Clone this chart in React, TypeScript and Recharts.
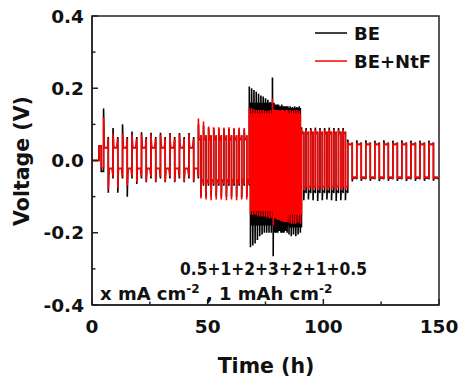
import React from 'react';
import { LineChart, Line, XAxis, YAxis, ReferenceArea, Legend } from 'recharts';

// ---- galvanostatic segments ----
const segmentCurrent = ['0.5', '1', '2', '3', '2', '1', '0.5'];
const segmentStart = [5, 46, 68, 78, 84.67, 90.55, 110.55];
const segmentHalf = [2.05, 1.1, 0.5, 0.3335, 0.49, 1.0, 1.95];

// rest / first step before cycling
const preTime = [0, 3, 3, 4, 4, 5];
const bePre = [0, 0, 0.04, 0.04, -0.03, -0.03];
const ntfPre = [0, 0, 0.04, 0.04, -0.02, -0.02];

// BE : peak voltage at the start of each half cycle
const beUpPeaks = [
  [0.144, 0.09, 0.1, 0.08, 0.078, 0.077, 0.077, 0.076, 0.076, 0.076],
  [0.1, 0.097, 0.09, 0.09, 0.088, 0.088, 0.087, 0.087, 0.086, 0.086],
  [0.205, 0.2, 0.195, 0.19, 0.185, 0.18, 0.177, 0.172, 0.168, 0.162],
  [0.23, 0.16, 0.155, 0.155, 0.155, 0.15, 0.155, 0.15, 0.15, 0.15],
  [0.15, 0.15, 0.148, 0.15, 0.148, 0.15],
  [0.092, 0.09, 0.09, 0.091, 0.09, 0.09, 0.091, 0.09, 0.09, 0.09],
  [0.058, 0.056, 0.056, 0.055, 0.056, 0.055, 0.056, 0.055, 0.055, 0.055],
];
const beDownPeaks = [
  [-0.089, -0.089, -0.1, -0.065, -0.06, -0.06, -0.06, -0.06, -0.06, -0.06],
  [-0.1, -0.102, -0.1, -0.1, -0.101, -0.1, -0.1, -0.1, -0.101, -0.1],
  [-0.24, -0.235, -0.23, -0.22, -0.21, -0.205, -0.2, -0.2, -0.2, -0.2],
  [-0.265, -0.2, -0.2, -0.2, -0.195, -0.2, -0.2, -0.2, -0.195, -0.2],
  [-0.205, -0.21, -0.205, -0.21, -0.205, -0.2],
  [-0.11, -0.108, -0.11, -0.112, -0.11, -0.108, -0.11, -0.112, -0.11, -0.11],
  [-0.058, -0.056, -0.056, -0.057, -0.056, -0.056, -0.057, -0.056, -0.056, -0.056],
];
const bePlatUp = [0.036, 0.058, 0.155, 0.14, 0.14, 0.075, 0.045];
const bePlatDown = [-0.022, -0.055, -0.175, -0.175, -0.18, -0.085, -0.048];
const beEndUp = [0.065, 0.07, 0.16, 0.145, 0.145, 0.08, 0.05];
const beEndDown = [-0.05, -0.07, -0.18, -0.18, -0.185, -0.09, -0.052];

// BE+NtF
const ntfUpPeaks = [
  [0.12, 0.075, 0.075, 0.072, 0.072, 0.072, 0.072, 0.072, 0.072, 0.072],
  [0.116, 0.108, 0.094, 0.092, 0.092, 0.091, 0.092, 0.09, 0.091, 0.09],
  [0.145, 0.145, 0.142, 0.14, 0.14, 0.14, 0.14, 0.138, 0.138, 0.14],
  [0.17, 0.142, 0.14, 0.14, 0.14, 0.138, 0.14, 0.14, 0.138, 0.14],
  [0.14, 0.14, 0.138, 0.14, 0.14, 0.138],
  [0.088, 0.086, 0.086, 0.087, 0.086, 0.086, 0.087, 0.086, 0.086, 0.086],
  [0.052, 0.05, 0.05, 0.05, 0.05, 0.05, 0.05, 0.05, 0.05, 0.05],
];
const ntfDownPeaks = [
  [-0.08, -0.075, -0.07, -0.06, -0.058, -0.058, -0.058, -0.058, -0.058, -0.058],
  [-0.105, -0.108, -0.11, -0.108, -0.108, -0.11, -0.108, -0.11, -0.108, -0.108],
  [-0.15, -0.15, -0.15, -0.152, -0.155, -0.155, -0.155, -0.158, -0.16, -0.16],
  [-0.18, -0.16, -0.162, -0.165, -0.165, -0.168, -0.168, -0.17, -0.17, -0.17],
  [-0.172, -0.175, -0.175, -0.175, -0.172, -0.175],
  [-0.082, -0.08, -0.08, -0.081, -0.08, -0.08, -0.081, -0.08, -0.08, -0.08],
  [-0.052, -0.051, -0.051, -0.052, -0.051, -0.051, -0.052, -0.051, -0.051, -0.051],
];
const ntfPlatUp = [0.035, 0.06, 0.125, 0.125, 0.125, 0.075, 0.044];
const ntfPlatDown = [-0.022, -0.055, -0.13, -0.14, -0.145, -0.072, -0.046];
const ntfEndUp = [0.06, 0.07, 0.13, 0.13, 0.13, 0.078, 0.048];
const ntfEndDown = [-0.045, -0.065, -0.14, -0.15, -0.15, -0.075, -0.05];

const xTicks = [0, 25, 50, 75, 100, 125, 150];
const xLabels = [0, 50, 100, 150];
const yTicks = [-0.4, -0.3, -0.2, -0.1, 0, 0.1, 0.2, 0.3, 0.4];
const yLabels = [-0.4, -0.2, 0, 0.2, 0.4];

type Pt = { t: number; v: number };

function buildSeries(
  pre: number[],
  up: number[][],
  down: number[][],
  platUp: number[],
  platDown: number[],
  endUp: number[],
  endDown: number[]
): Pt[] {
  const pts: Pt[] = preTime.map((t, i) => ({ t, v: pre[i] }));
  segmentStart.forEach((s, k) => {
    const h = segmentHalf[k];
    up[k].forEach((u, i) => {
      const t0 = s + 2 * i * h;
      const t1 = t0 + h;
      pts.push(
        { t: t0, v: u },
        { t: t0 + 0.12 * h, v: platUp[k] },
        { t: t0 + 0.85 * h, v: platUp[k] },
        { t: t1, v: endUp[k] },
        { t: t1, v: down[k][i] },
        { t: t1 + 0.12 * h, v: platDown[k] },
        { t: t1 + 0.85 * h, v: platDown[k] },
        { t: t1 + h, v: endDown[k] }
      );
    });
  });
  return pts;
}

const beData = buildSeries(bePre, beUpPeaks, beDownPeaks, bePlatUp, bePlatDown, beEndUp, beEndDown);
const ntfData = buildSeries(ntfPre, ntfUpPeaks, ntfDownPeaks, ntfPlatUp, ntfPlatDown, ntfEndUp, ntfEndDown);

const FONT = 'DejaVu Sans';
const PLOT_LEFT = 92;
const PLOT_BOTTOM = 305;
const AXIS = '#222';

const YTick = (props: any) => {
  const { y, payload } = props;
  const v = payload.value as number;
  const major = yLabels.some((l) => Math.abs(l - v) < 1e-6);
  return (
    <g>
      <line x1={PLOT_LEFT} x2={PLOT_LEFT + (major ? 6 : 3.5)} y1={y} y2={y} stroke={AXIS} strokeWidth={1.5} />
      {major && (
        <text x={84} y={y} dy="0.36em" textAnchor="end" fontFamily={FONT} fontWeight="bold" fontSize={18.5} fill="#111">
          {v.toFixed(1)}
        </text>
      )}
    </g>
  );
};

const XTick = (props: any) => {
  const { x, payload } = props;
  const v = payload.value as number;
  const major = xLabels.includes(v);
  return (
    <g>
      <line x1={x} x2={x} y1={PLOT_BOTTOM} y2={PLOT_BOTTOM - (major ? 6 : 3.5)} stroke={AXIS} strokeWidth={1.5} />
      {major && (
        <text x={x} y={333} textAnchor="middle" fontFamily={FONT} fontWeight="bold" fontSize={18.5} fill="#111">
          {v}
        </text>
      )}
    </g>
  );
};

const renderLegend = () => (
  <svg width={150} height={60}>
    <line x1={10} x2={42} y1={15} y2={15} stroke="#000" strokeWidth={1.5} />
    <text x={49} y={22} fontFamily={FONT} fontWeight="bold" fontSize={18} fill="#111">BE</text>
    <line x1={10} x2={42} y1={43} y2={43} stroke="#ff0000" strokeWidth={1.5} />
    <text x={49} y={50} fontFamily={FONT} fontWeight="bold" fontSize={18} fill="#111">BE+NtF</text>
  </svg>
);

export default function App() {
  return (
    <div style={{ position: 'absolute', left: 0, top: 0, width: 461, height: 389, background: '#fff' }}>
      <LineChart width={461} height={389} margin={{ top: 16, right: 22, left: 32, bottom: 54 }}>
        <XAxis
          type="number"
          dataKey="t"
          domain={[0, 150]}
          ticks={xTicks}
          interval={0}
          height={30}
          axisLine={{ stroke: AXIS, strokeWidth: 1.5 }}
          tickLine={false}
          tick={<XTick />}
          allowDataOverflow
        />
        <YAxis
          type="number"
          domain={[-0.4, 0.4]}
          ticks={yTicks}
          interval={0}
          width={60}
          axisLine={{ stroke: AXIS, strokeWidth: 1.5 }}
          tickLine={false}
          tick={<YTick />}
          allowDataOverflow
        />
        <ReferenceArea x1={0} x2={150} y1={-0.4} y2={0.4} fill="none" stroke={AXIS} strokeWidth={1.5} ifOverflow="visible" />
        <Line data={beData} dataKey="v" name="BE" type="linear" stroke="#000" strokeWidth={1.6} dot={false} isAnimationActive={false} />
        <Line data={ntfData} dataKey="v" name="BE+NtF" type="linear" stroke="#ff0000" strokeWidth={1.6} dot={false} isAnimationActive={false} />
        <Legend
          layout="vertical"
          align="center"
          verticalAlign="middle"
          wrapperStyle={{ position: 'absolute', left: 305, top: 18, width: 150, height: 60 }}
          content={renderLegend}
        />
      </LineChart>
      <svg width={461} height={389} style={{ position: 'absolute', left: 0, top: 0, pointerEvents: 'none' }}>
        <text x={180} y={275} fontFamily={FONT} fontWeight="bold" fontSize={17.5} fill="#111" textLength={187} lengthAdjust="spacingAndGlyphs">
          {segmentCurrent.join('+')}
        </text>
        <text x={100} y={300} fontFamily={FONT} fontWeight="bold" fontSize={18} fill="#111">
          x mA cm
          <tspan dy={-7} fontSize={12}>-2</tspan>
          <tspan dy={7}> , 1 mAh cm</tspan>
          <tspan dy={-7} fontSize={12}>-2</tspan>
        </text>
        <text
          x={29}
          y={161}
          transform="rotate(-90 29 161)"
          textAnchor="middle"
          fontFamily={FONT}
          fontWeight="bold"
          fontSize={20.5}
          fill="#111"
        >
          Voltage (V)
        </text>
        <text x={266} y={373} textAnchor="middle" fontFamily={FONT} fontWeight="bold" fontSize={20.5} fill="#111">
          Time (h)
        </text>
      </svg>
    </div>
  );
}
